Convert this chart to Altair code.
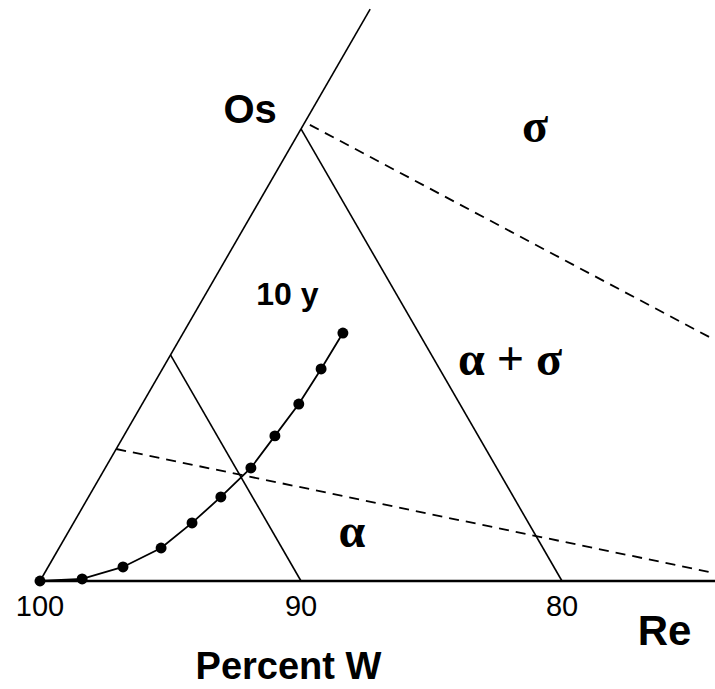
import altair as alt
import pandas as pd

# ---- data (composition in percent: Re, Os; W = 100 - Re - Os) ----
# boundary lines: id, Re, Os endpoints
solid_ids = ["edge_left", "edge_left", "w90", "w90", "w80", "w80"]
solid_re = [0, 0, 0, 10, 0, 20]
solid_os = [0, 25.3, 10, 0, 20, 0]

axis_re = [0, 25.9]
axis_os = [0, 0]

dash_ids = ["alpha_bound", "alpha_bound", "sigma_bound", "sigma_bound"]
dash_re = [0, 25.68, 0.25, 20.53]
dash_os = [5.84, 0.35, 20.18, 10.66]

# 10 y diffusion path
path_re = [0, 1.57, 2.87, 3.91, 4.54, 5.07, 5.58, 5.79, 6.0, 6.08, 6.12]
path_os = [0, 0.09, 0.62, 1.46, 2.57, 3.72, 5.0, 6.42, 7.83, 9.38, 10.97]

# tick labels on the W axis
tick_labels = ["100", "90", "80"]
tick_re = [0, 10, 20]

# annotation labels (plot units)
sans_text = ["Os", "10 y", "Re", "Percent W"]
sans_x = [8.05, 9.48, 23.93, 9.52]
sans_y = [17.55, 10.57, -2.45, -3.75]
sans_size = [40, 32, 42, 38]

greek_text = ["σ", "α + σ", "α"]
greek_x = [18.97, 18.01, 11.95]
greek_y = [16.82, 7.89, 1.30]

# ---- tables ----
solid = pd.DataFrame({"line": solid_ids, "re": solid_re, "os": solid_os,
                      "ord": list(range(len(solid_ids)))})
axis_df = pd.DataFrame({"re": axis_re, "os": axis_os, "ord": [0, 1]})
dashed = pd.DataFrame({"line": dash_ids, "re": dash_re, "os": dash_os,
                       "ord": list(range(len(dash_ids)))})
path = pd.DataFrame({"re": path_re, "os": path_os, "ord": list(range(len(path_re)))})
ticks = pd.DataFrame({"label": tick_labels, "re": tick_re, "os": [0] * 3})
sans = pd.DataFrame({"text": sans_text, "x": sans_x, "y": sans_y, "size": sans_size})
greek = pd.DataFrame({"text": greek_text, "x": greek_x, "y": greek_y})

xs = alt.Scale(domain=[-40 / 26.1, 675 / 26.1], nice=False, zero=False)
ys = alt.Scale(domain=[-108 / 26.1, 581 / 26.1], nice=False, zero=False)

X = alt.X("X:Q", scale=xs, axis=None)
Y = alt.Y("Y:Q", scale=ys, axis=None)


def tern(ch):
    return ch.transform_calculate(
        X="datum.re + datum.os / 2", Y="datum.os * sqrt(3) / 2"
    )


solid_layer = tern(alt.Chart(solid)).mark_line(color="black", strokeWidth=1.6).encode(
    x=X, y=Y, detail="line:N", order="ord:Q"
)
axis_layer = tern(alt.Chart(axis_df)).mark_line(color="black", strokeWidth=2.5).encode(
    x=X, y=Y, order="ord:Q"
)
dash_layer = tern(alt.Chart(dashed)).mark_line(
    color="black", strokeWidth=1.8, strokeDash=[10, 7]
).encode(x=X, y=Y, detail="line:N", order="ord:Q")
path_line = tern(alt.Chart(path)).mark_line(color="black", strokeWidth=1.8).encode(
    x=X, y=Y, order="ord:Q"
)
path_pts = tern(alt.Chart(path)).mark_circle(color="black", opacity=1, size=120).encode(
    x=X, y=Y
)
tick_layer = tern(alt.Chart(ticks)).mark_text(
    font="Liberation Sans", fontSize=29, baseline="top", dy=12, color="black"
).encode(x=X, y=Y, text="label:N")

sans_layer = alt.Chart(sans).mark_text(
    font="Liberation Sans", fontWeight="bold", baseline="alphabetic", color="black"
).encode(
    x=alt.X("x:Q", scale=xs, axis=None),
    y=alt.Y("y:Q", scale=ys, axis=None),
    text="text:N",
    size=alt.Size("size:Q", scale=None, legend=None),
)
greek_layer = alt.Chart(greek).mark_text(
    font="Liberation Serif", fontWeight="bold", fontSize=48,
    baseline="alphabetic", color="black"
).encode(
    x=alt.X("x:Q", scale=xs, axis=None),
    y=alt.Y("y:Q", scale=ys, axis=None),
    text="text:N",
)

chart = alt.layer(
    solid_layer, axis_layer, dash_layer, path_line, path_pts,
    tick_layer, sans_layer, greek_layer
).properties(
    width=715, height=689, padding=0, autosize="none", background="white"
).configure_view(stroke=None)

chart.save("out.html", embed_options={"renderer": "svg", "actions": False})
